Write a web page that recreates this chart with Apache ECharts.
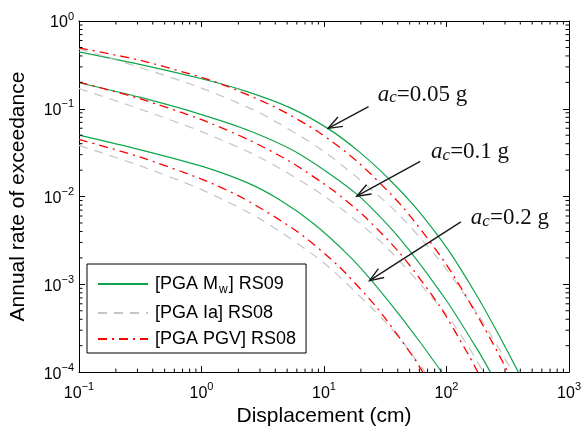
<!DOCTYPE html>
<html>
<head>
<meta charset="UTF-8">
<title>Annual rate of exceedance</title>
<script src="https://cdn.jsdelivr.net/npm/echarts@6/dist/echarts.min.js"></script>
<style>
  html, body { margin: 0; background: #fff; }
  #main { width: 584px; height: 432px; }
</style>
</head>
<body>
<div id="main"></div>
<script>
// [displacement (cm), annual rate of exceedance]
// ac = 0.05 g
const mw_005  = [[0.1,0.445],[0.312,0.321],[1,0.220],[2.29,0.159],[5.31,0.1025],[10.8,0.0594],[19.2,0.0327],[34.2,0.01566],[55.6,0.00756],[90.2,0.00321],[117,0.0019],[183,6.86e-4],[266,2.68e-4],[386,1e-4]];
const ia_005  = [[0.1,0.482],[0.312,0.2965],[1,0.172],[3.03,0.0888],[10,0.0326],[35.5,0.00754],[87,0.0019],[183,4.41e-4],[348,1e-4]];
const pgv_005 = [[0.1,0.494],[0.312,0.358],[1,0.228],[1.61,0.181],[4.09,0.1025],[8.94,0.0547],[18.5,0.0254],[43.6,0.00768],[99.1,0.0017],[201,3.3e-4],[318,1e-4]];
// ac = 0.1 g
const mw_01   = [[0.1,0.198],[0.312,0.1355],[1,0.0859],[2.52,0.0554],[6.39,0.0302],[18.5,0.01065],[41.2,0.00337],[99.1,6.63e-4],[183,1.71e-4],[228,1e-4]];
const ia_01   = [[0.1,0.17],[0.312,0.0996],[1,0.0549],[3.03,0.0277],[10,0.0102],[30,0.00293],[99.1,4.59e-4],[152,1.92e-4],[200,1e-4]];
const pgv_01  = [[0.1,0.201],[0.312,0.1306],[1,0.0751],[2.42,0.0444],[5.31,0.0249],[11.83,0.0118],[20.7,0.00619],[41.2,0.0023],[87,5.77e-4],[152,1.55e-4],[180,1e-4]];
// ac = 0.2 g
const mw_02   = [[0.1,0.0501],[0.312,0.0343],[1,0.0222],[2.38,0.0143],[4.4,0.00908],[8.15,0.00497],[15.36,0.00224],[23.6,0.00117],[41.2,4.5e-4],[59.9,2.26e-4],[91.3,1e-4]];
const ia_02   = [[0.1,0.0383],[0.312,0.0225],[1,0.012],[3.03,0.00553],[10,0.00175],[30,4.05e-4],[45.3,2.07e-4],[66.9,1e-4]];
const pgv_02  = [[0.1,0.0448],[0.312,0.0283],[1,0.0158],[2.17,0.00962],[5.83,0.00414],[12.74,0.00168],[26.9,5.46e-4],[52.6,1.54e-4],[64,1e-4]];

const legendNames = ['[PGA Mw] RS09', '[PGA Ia] RS08', '[PGA PGV] RS08'];
const acLabels = ['0.05', '0.1', '0.2'];
const labelAt  = [[27.4,0.121],[74.8,0.0266],[158,0.00475]];
const arrowFrom = [[23.1,0.106],[61,0.0252],[131,0.00514]];
const arrowTo   = [[10.8,0.0598],[18.5,0.0101],[23.5,0.0011]];

// minor tick positions of the log axes
const xMinor = [], yMinor = [];
for (let d = -1; d <= 2; d++) for (let m = 2; m <= 9; m++) xMinor.push([m * Math.pow(10, d), 0.01]);
for (let d = -4; d <= -1; d++) for (let m = 2; m <= 9; m++) yMinor.push([1, m * Math.pow(10, d)]);

const GREEN = '#0fa54c', GRAY = '#c4c4c4', RED = '#ff0000';
const SANS = 'Liberation Sans, Arial, Helvetica, sans-serif';
const SERIF = 'Liberation Serif, Times New Roman, serif';

function curve(name, data, color, type, width) {
  return {
    type: 'line', name: name, data: data,
    symbol: 'none', showSymbol: false, smooth: 0.25,
    lineStyle: { color: color, width: width, type: type },
    itemStyle: { color: color },
    emphasis: { disabled: true }
  };
}

function pow10(v) {
  const e = Math.round(Math.log10(v));
  return '{b|10}{e|' + (e < 0 ? '\u2212' + (-e) : e) + '}';
}
const labelRich = {
  b: { fontSize: 16, lineHeight: 20, verticalAlign: 'bottom', fontFamily: SANS, color: '#000' },
  e: { fontSize: 11, lineHeight: 11, verticalAlign: 'top', fontFamily: SANS, color: '#000' }
};
const axisLine = { show: true, lineStyle: { color: '#000', width: 1 } };
const tick = { show: true, inside: true, length: 6, lineStyle: { color: '#000', width: 1 } };

function minorTicks(isX) {
  return {
    type: 'custom', silent: true, clip: false, z: 5,
    data: isX ? xMinor : yMinor,
    renderItem: function (params, api) {
      const v = api.value(isX ? 0 : 1);
      let a, b, ka, kb;
      if (isX) {
        a = api.coord([v, 1e-4]); b = api.coord([v, 1]);
        ka = [a[0], a[1] - 3.5]; kb = [b[0], b[1] + 3.5];
      } else {
        a = api.coord([0.1, v]); b = api.coord([1000, v]);
        ka = [a[0] + 3.5, a[1]]; kb = [b[0] - 3.5, b[1]];
      }
      const st = { stroke: '#000', lineWidth: 1 };
      return { type: 'group', children: [
        { type: 'line', shape: { x1: a[0], y1: a[1], x2: ka[0], y2: ka[1] }, style: st },
        { type: 'line', shape: { x1: b[0], y1: b[1], x2: kb[0], y2: kb[1] }, style: st }
      ] };
    }
  };
}

const chart = echarts.init(document.getElementById('main'));

const option = {
  animation: false,
  backgroundColor: '#fff',
  grid: { left: 77, right: 13, top: 21, bottom: 58 },
  legend: {
    data: legendNames,
    orient: 'vertical', left: 87, top: 264,
    itemWidth: 50, itemHeight: 18, itemGap: 8,
    padding: [8, 10, 5, 10],
    borderColor: '#000', borderWidth: 1, backgroundColor: '#fff',
    selectedMode: false,
    itemStyle: { opacity: 0 },
    formatter: function (name) {
      if (name === legendNames[0]) return '{n|[PGA M}{w|w}{n|] RS09}';
      return '{n|' + name + '}';
    },
    textStyle: {
      fontFamily: SANS, fontSize: 18, color: '#000', padding: [0, 0, 0, 2],
      rich: {
        n: { fontFamily: SANS, fontSize: 18, lineHeight: 18, color: '#000' },
        w: { fontFamily: SANS, fontSize: 12, lineHeight: 12, padding: [12, 1, 0, 1], color: '#000' }
      }
    }
  },
  xAxis: [{
    type: 'log', logBase: 10, min: 0.1, max: 1000, position: 'bottom',
    name: 'Displacement (cm)', nameLocation: 'middle', nameGap: 27,
    nameTextStyle: { fontFamily: SANS, fontSize: 21, color: '#000' },
    axisLine: axisLine, axisTick: tick, splitLine: { show: false },
    axisLabel: { margin: 9, formatter: pow10, rich: labelRich }
  }, {
    type: 'log', logBase: 10, min: 0.1, max: 1000, position: 'top',
    axisLine: axisLine, axisTick: tick, splitLine: { show: false },
    axisLabel: { show: false }
  }],
  yAxis: [{
    type: 'log', logBase: 10, min: 1e-4, max: 1, position: 'left',
    name: 'Annual rate of exceedance', nameLocation: 'middle', nameGap: 50,
    nameTextStyle: { fontFamily: SANS, fontSize: 21, color: '#000' },
    axisLine: axisLine, axisTick: tick, splitLine: { show: false },
    axisLabel: { margin: 5, formatter: pow10, rich: labelRich }
  }, {
    type: 'log', logBase: 10, min: 1e-4, max: 1, position: 'right',
    axisLine: axisLine, axisTick: tick, splitLine: { show: false },
    axisLabel: { show: false }
  }],
  series: [
    curve(legendNames[0], mw_005, GREEN, 'solid', 1.2),
    curve(legendNames[1], ia_005, GRAY, [9, 7], 1.2),
    curve(legendNames[2], pgv_005, RED, [9, 5, 2, 5], 1.3),
    curve(legendNames[0], mw_01, GREEN, 'solid', 1.2),
    curve(legendNames[1], ia_01, GRAY, [9, 7], 1.2),
    curve(legendNames[2], pgv_01, RED, [9, 5, 2, 5], 1.3),
    curve(legendNames[0], mw_02, GREEN, 'solid', 1.2),
    curve(legendNames[1], ia_02, GRAY, [9, 7], 1.2),
    curve(legendNames[2], pgv_02, RED, [9, 5, 2, 5], 1.3),
    minorTicks(true),
    minorTicks(false)
  ]
};
chart.setOption(option);

// ac annotations with arrows
const graphics = [];
for (let i = 0; i < acLabels.length; i++) {
  const p0 = chart.convertToPixel({ gridIndex: 0 }, arrowFrom[i]);
  const p1 = chart.convertToPixel({ gridIndex: 0 }, arrowTo[i]);
  const ang = Math.atan2(p0[1] - p1[1], p0[0] - p1[0]);
  const L = 15, h = 0.36;
  graphics.push({
    type: 'polyline', z: 20,
    shape: { points: [p0, p1] },
    style: { stroke: '#1a1a1a', lineWidth: 1.4, fill: null }
  });
  graphics.push({
    type: 'polyline', z: 20,
    shape: { points: [
      [p1[0] + L * Math.cos(ang + h), p1[1] + L * Math.sin(ang + h)],
      p1,
      [p1[0] + L * Math.cos(ang - h), p1[1] + L * Math.sin(ang - h)]
    ] },
    style: { stroke: '#1a1a1a', lineWidth: 1.4, fill: null }
  });
  const t = chart.convertToPixel({ gridIndex: 0 }, labelAt[i]);
  graphics.push({
    type: 'text', z: 20, x: t[0], y: t[1] - 7,
    style: {
      text: '{a|a}{c|c}{n|=' + acLabels[i] + ' g}',
      verticalAlign: 'middle', align: 'left',
      rich: {
        a: { fontFamily: SERIF, fontStyle: 'italic', fontSize: 23, lineHeight: 24, fill: '#111' },
        c: { fontFamily: SERIF, fontStyle: 'italic', fontSize: 17, lineHeight: 17, padding: [7, 0, 0, 0], fill: '#111' },
        n: { fontFamily: SERIF, fontSize: 23, lineHeight: 24, fill: '#111' }
      }
    }
  });
}
chart.setOption({ graphic: graphics });
</script>
</body>
</html>
